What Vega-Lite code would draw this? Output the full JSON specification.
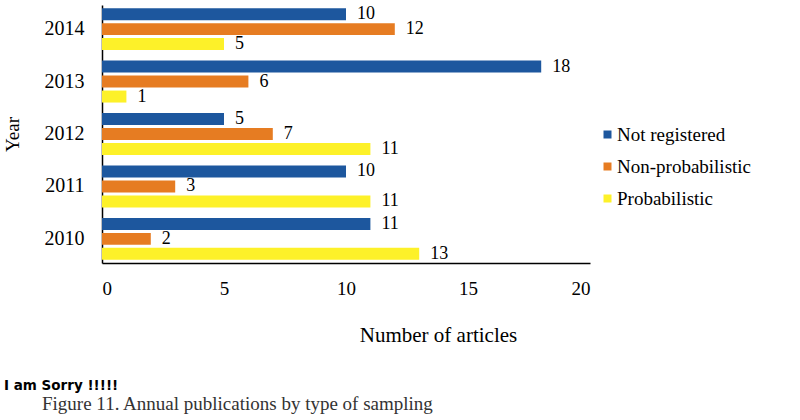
{
  "$schema": "https://vega.github.io/schema/vega-lite/v6.json",
  "autosize": "none",
  "width": 488,
  "height": 258,
  "padding": {"left": 102, "top": 5, "right": 210, "bottom": 157},
  "background": "white",
  "config": {"view": {"stroke": null}, "font": "Liberation Serif"},
  "title": {
    "text": "I am Sorry !!!!!",
    "subtitle": "\u200b\u00a0\u00a0\u00a0\u00a0\u00a0\u00a0\u00a0\u00a0Figure 11. Annual publications by type of sampling",
    "orient": "bottom",
    "anchor": "start",
    "frame": "bounds",
    "offset": 34,
    "dx": 1,
    "font": "DejaVu Sans",
    "fontSize": 13.5,
    "fontWeight": "bold",
    "color": "black",
    "subtitleFont": "Liberation Serif",
    "subtitleFontSize": 19,
    "subtitleColor": "#333333",
    "subtitlePadding": 2
  },
  "data": {
    "values": [
      {"year": "2014", "type": "Not registered", "value": 10},
      {"year": "2014", "type": "Non-probabilistic", "value": 12},
      {"year": "2014", "type": "Probabilistic", "value": 5},
      {"year": "2013", "type": "Not registered", "value": 18},
      {"year": "2013", "type": "Non-probabilistic", "value": 6},
      {"year": "2013", "type": "Probabilistic", "value": 1},
      {"year": "2012", "type": "Not registered", "value": 5},
      {"year": "2012", "type": "Non-probabilistic", "value": 7},
      {"year": "2012", "type": "Probabilistic", "value": 11},
      {"year": "2011", "type": "Not registered", "value": 10},
      {"year": "2011", "type": "Non-probabilistic", "value": 3},
      {"year": "2011", "type": "Probabilistic", "value": 11},
      {"year": "2010", "type": "Not registered", "value": 11},
      {"year": "2010", "type": "Non-probabilistic", "value": 2},
      {"year": "2010", "type": "Probabilistic", "value": 13}
    ]
  },
  "encoding": {
    "y": {
      "field": "year",
      "type": "nominal",
      "sort": "descending",
      "scale": {"paddingInner": 0.2, "paddingOuter": 0.06},
      "axis": {
        "title": "Year",
        "titleFont": "Liberation Serif",
        "titleFontSize": 19,
        "titleFontWeight": "normal",
        "titleColor": "black",
        "titlePadding": 22,
        "labelFont": "Liberation Serif",
        "labelFontSize": 20,
        "labelColor": "black",
        "labelPadding": 18,
        "ticks": false,
        "domainColor": "black",
        "domainWidth": 1.5
      }
    },
    "yOffset": {
      "field": "type",
      "type": "nominal",
      "sort": ["Not registered", "Non-probabilistic", "Probabilistic"],
      "scale": {"paddingInner": 0.2}
    },
    "x": {
      "field": "value",
      "type": "quantitative",
      "scale": {"domain": [0, 20]},
      "axis": {
        "title": "Number of articles",
        "titleFont": "Liberation Serif",
        "titleFontSize": 21,
        "titleFontWeight": "normal",
        "titleColor": "black",
        "titleX": 336,
        "titleY": 78,
        "titleBaseline": "alphabetic",
        "values": [0, 5, 10, 15, 20],
        "grid": false,
        "ticks": false,
        "labelFont": "Liberation Serif",
        "labelFontSize": 19,
        "labelColor": "black",
        "labelPadding": 16,
        "domainColor": "black",
        "domainWidth": 1.5
      }
    }
  },
  "layer": [
    {
      "mark": {"type": "bar"},
      "encoding": {
        "color": {
          "field": "type",
          "type": "nominal",
          "sort": ["Not registered", "Non-probabilistic", "Probabilistic"],
          "scale": {
            "domain": ["Not registered", "Non-probabilistic", "Probabilistic"],
            "range": ["#1d579e", "#e67c22", "#fdf129"]
          },
          "legend": {
            "title": null,
            "orient": "none",
            "legendX": 496,
            "legendY": 120,
            "symbolType": "square",
            "symbolSize": 64,
            "symbolStrokeWidth": 0,
            "labelFont": "Liberation Serif",
            "labelFontSize": 19,
            "labelColor": "black",
            "labelOffset": 0,
            "rowPadding": 12
          }
        }
      }
    },
    {
      "mark": {"type": "text", "align": "left", "baseline": "middle", "dx": 11, "fontSize": 18, "font": "Liberation Serif", "color": "black"},
      "encoding": {
        "text": {"field": "value", "type": "quantitative"}
      }
    }
  ]
}
